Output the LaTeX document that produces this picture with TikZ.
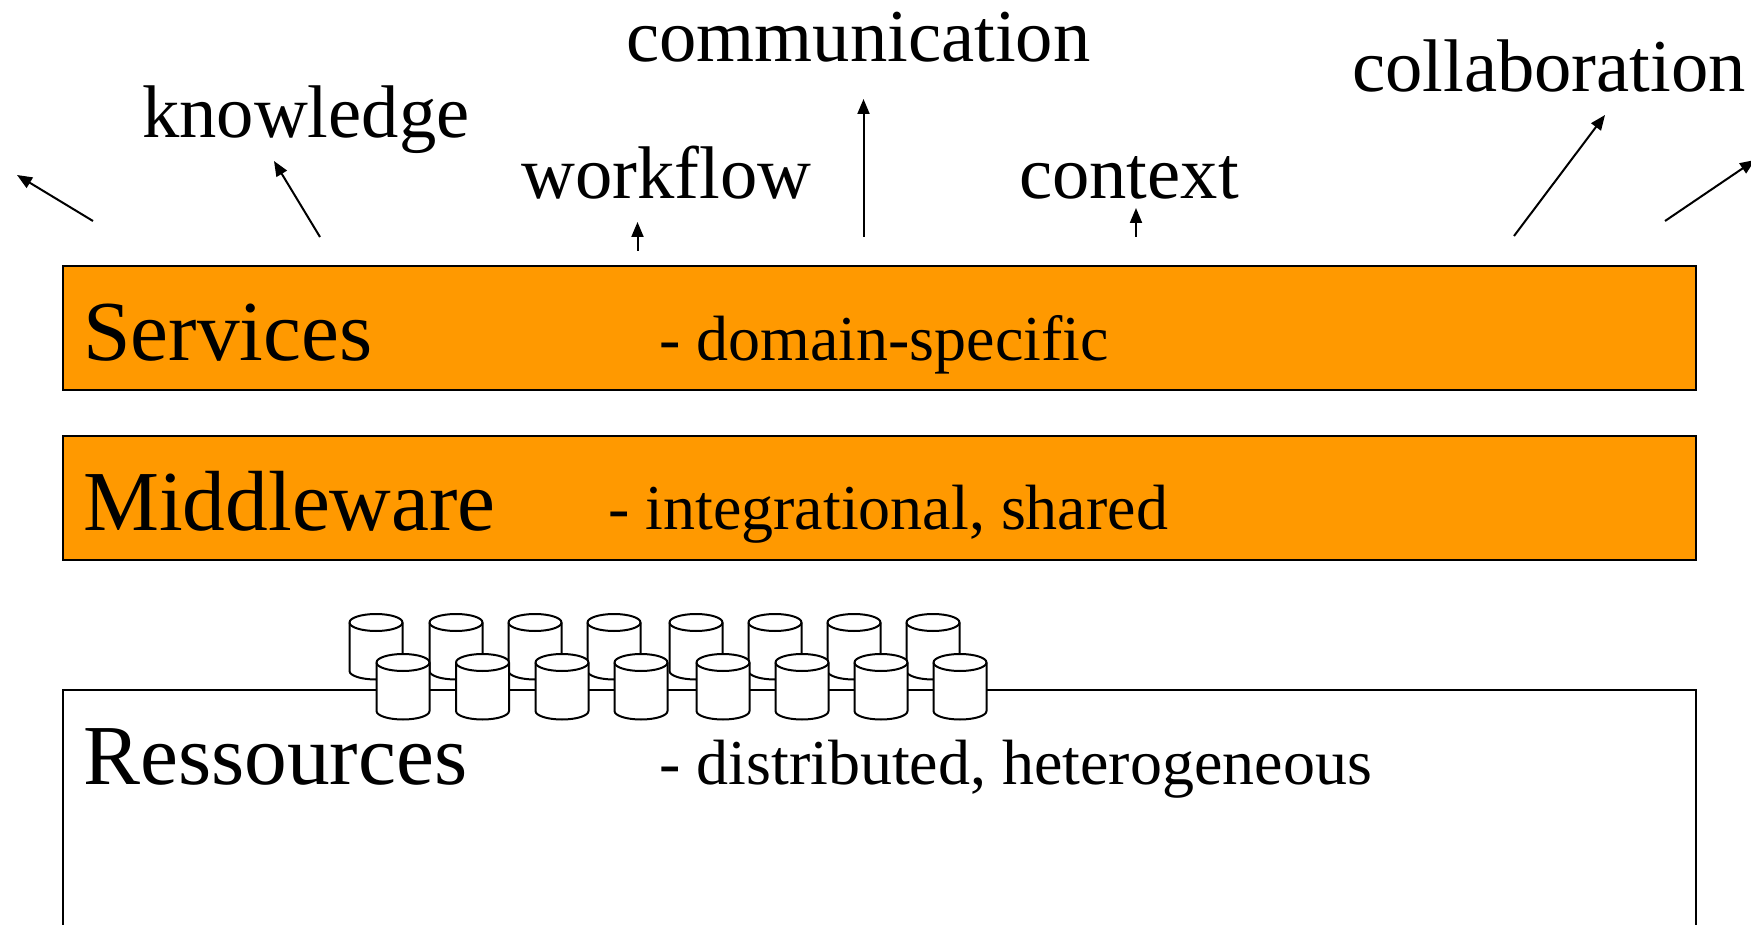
\documentclass[tikz,border=0pt]{standalone}
\usepackage{fontspec}
\setmainfont{Liberation Serif}
\usetikzlibrary{arrows.meta}
\definecolor{barorange}{HTML}{FF9900}
\tikzset{
  bar/.style={draw=black,line width=2pt,fill=barorange,minimum width=1633pt,minimum height=124pt,inner sep=0pt,outer sep=0pt,anchor=north west},
  plainbar/.style={bar,fill=white,minimum height=260pt},
  head/.style={font=\fontsize{85.4}{85.4}\selectfont,anchor=base west,inner sep=0pt},
  sub/.style={font=\fontsize{64}{64}\selectfont,anchor=base west,inner sep=0pt},
  topic/.style={font=\fontsize{74.6}{74.6}\selectfont,anchor=base west,inner sep=0pt},
  arrow/.style={line width=2pt,-{Triangle[length=15pt,width=12pt]}},
  can/.pic={
    \path[draw=black,line width=2pt,fill=white]
      (-26.5,8.5) -- (-26.5,57) arc[start angle=180,end angle=0,x radius=26.5,y radius=8.5]
      -- (26.5,8.5) arc[start angle=0,end angle=-180,x radius=26.5,y radius=8.5] -- cycle;
    \draw[line width=2pt] (-26.5,8.5) arc[start angle=180,end angle=0,x radius=26.5,y radius=8.5];
  }
}
\begin{document}
\begin{tikzpicture}[x=1pt,y=-1pt]
\useasboundingbox (0,0) rectangle (1751,925);
\clip (0,0) rectangle (1751,925);
\node[bar] (services) at (62.5,266) {};
\node[bar] (middleware) at (62.5,436) {};
\node[plainbar] (ressources) at (62.5,690) {};
\foreach \x in {376,456,535,614,696,775,854,933}{
  \pic at (\x,614) {can};
}
\foreach \x in {403,482.5,562,641,723,802,881,960}{
  \pic at (\x,654) {can};
}
\node[head] (lservices) at (83,360) {Services};
\node[sub] (dservices) at (659,360) {- domain-specific};
\node[head] (lmiddleware) at (83,530) {Middleware};
\node[sub] (dmiddleware) at (608,529) {- integrational, shared};
\node[head] (lressources) at (83,784) {Ressources};
\node[sub] (dressources) at (659,784) {- distributed, heterogeneous};
\node[topic] (knowledge) at (142,138) {knowledge};
\node[topic] (workflow) at (521,199) {workflow};
\node[topic] (communication) at (626,62) {communication};
\node[topic] (context) at (1019,199) {context};
\node[topic] (collaboration) at (1352,92) {collaboration};
\coordinate (a1s) at (93,221); \coordinate (a1e) at (17,175);
\coordinate (a2s) at (320,237); \coordinate (a2e) at (274,161);
\coordinate (a3s) at (637.5,251); \coordinate (a3e) at (637.5,222);
\coordinate (a4s) at (863.5,237); \coordinate (a4e) at (863.5,99);
\coordinate (a5s) at (1136,237); \coordinate (a5e) at (1136,208);
\coordinate (a6s) at (1514,236); \coordinate (a6e) at (1605,115);
\coordinate (a7s) at (1665,221); \coordinate (a7e) at (1755,160);
\foreach \n in {1,...,7}{\draw[arrow] (a\n s) -- (a\n e);}
\end{tikzpicture}
\end{document}
